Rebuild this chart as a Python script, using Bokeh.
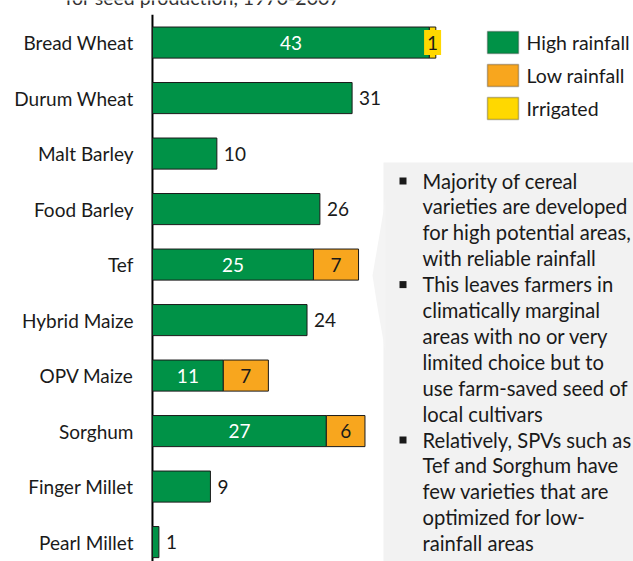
from bokeh.plotting import figure
from bokeh.models import (Range1d, ColumnDataSource, Label,
                          BoxAnnotation, PolyAnnotation)
from bokeh.core.properties import value
from bokeh.embed import file_html
from bokeh.resources import INLINE

# ---------------- data ----------------
categories = ["Bread Wheat", "Durum Wheat", "Malt Barley", "Food Barley", "Tef",
              "Hybrid Maize", "OPV Maize", "Sorghum", "Finger Millet", "Pearl Millet"]
high_rainfall = [43, 31, 10, 26, 25, 24, 11, 27, 9, 1]
low_rainfall = [0, 0, 0, 0, 7, 0, 7, 6, 0, 0]
irrigated = [1, 0, 0, 0, 0, 0, 0, 0, 0, 0]
series_names = ["High rainfall", "Low rainfall", "Irrigated"]
title_text = "for seed production, 1970-2007"
note_paragraphs = [
    ["Majority of cereal", "varieties are developed", "for high potential areas,",
     "with reliable rainfall"],
    ["This leaves farmers in", "climatically marginal", "areas with no or very",
     "limited choice but to", "use farm-saved seed of", "local cultivars"],
    ["Relatively, SPVs such as", "Tef and Sorghum have", "few varieties that are",
     "optimized for low-", "rainfall areas"],
]

# ---------------- styles ----------------
GREEN = "#009247"
ORANGE = "#F8A61E"
YELLOW = "#FFD800"
DARK = "#1a1a1a"
FONT = "Lato"
FS = "19px"
FS_LEG = "19.5px"
FS_NOTE = "20.2px"

idx = list(range(len(categories)))

# the plotting frame covers the whole canvas; value 0 sits 152 px from the left
p = figure(width=633, height=561,
           x_range=Range1d(-23.6, 74.7), y_range=Range1d(9.35, -0.758),
           x_axis_location=None, y_axis_location=None,
           output_backend="svg", toolbar_location=None,
           min_border_left=0, min_border_right=0, min_border_top=0,
           min_border_bottom=0)
p.styles = {"position": "absolute", "left": "0px", "top": "0px", "margin": "0px"}
p.grid.visible = False
p.outline_line_color = None
p.background_fill_color = "white"
p.border_fill_color = "white"

# callout box
p.add_layout(BoxAnnotation(left=383, right=633, top=162, bottom=561,
                           left_units="canvas", right_units="canvas",
                           top_units="canvas", bottom_units="canvas",
                           fill_color="#F2F2F2", fill_alpha=1, line_color=None,
                           level="underlay"))
p.add_layout(PolyAnnotation(xs=[385, 378, 372, 377, 385], ys=[198, 240, 275, 307, 352],
                            xs_units="canvas", ys_units="canvas",
                            fill_color="#F4F4F4", fill_alpha=1, line_color=None,
                            level="underlay"))

# category axis: line from the top slot edge downward + category labels
p.segment(x0=[0], y0=[idx[0] - 0.5], x1=[0], y1=[idx[-1] + 0.5],
          line_color="black", line_width=2)
p.text(x=[0] * len(idx), y=idx, text=categories, x_offset=-19,
       text_align="right", text_baseline="middle",
       text_font=value(FONT), text_font_size=value(FS), text_color=DARK)

# stacked bars
h_left = [0] * len(idx)
h_right = high_rainfall
l_left = high_rainfall
l_right = [h + l for h, l in zip(high_rainfall, low_rainfall)]
i_left = l_right
i_right = [a + b for a, b in zip(l_right, irrigated)]

def sub(mask, **cols):
    return ColumnDataSource({k: [v for v, m in zip(vals, mask) if m] for k, vals in cols.items()})

all_mask = [True] * len(idx)
low_mask = [v > 0 for v in low_rainfall]
irr_mask = [v > 0 for v in irrigated]

p.hbar(y="y", left="l", right="r", height=0.56, source=sub(all_mask, y=idx, l=h_left, r=h_right),
       fill_color=GREEN, line_color=DARK, line_width=1)
p.hbar(y="y", left="l", right="r", height=0.56, source=sub(low_mask, y=idx, l=l_left, r=l_right),
       fill_color=ORANGE, line_color=DARK, line_width=1)
p.hbar(y="y", left="l", right="r", height=0.56, source=sub(irr_mask, y=idx, l=i_left, r=i_right),
       fill_color=YELLOW, line_color=DARK, line_width=1)

stacked = [(l + i) > 0 for l, i in zip(low_rainfall, irrigated)]
single = [not s for s in stacked]

# labels: outside for single-series bars
p.text(x="x", y="y", text="t", source=sub(single, x=high_rainfall, y=idx,
                                           t=[str(v) for v in high_rainfall]),
       x_offset=7, text_align="left", text_baseline="middle",
       text_font=value(FONT), text_font_size=value(FS), text_color=DARK)
# inside labels for stacked bars
p.text(x="x", y="y", text="t",
       source=sub(stacked, x=[v / 2 for v in high_rainfall], y=idx,
                  t=[str(v) for v in high_rainfall]),
       text_align="center", text_baseline="middle",
       text_font=value(FONT), text_font_size=value(FS), text_color="white")
p.text(x="x", y="y", text="t",
       source=sub(low_mask, x=[a + b / 2 for a, b in zip(l_left, low_rainfall)], y=idx,
                  t=[str(v) for v in low_rainfall]),
       text_align="center", text_baseline="middle",
       text_font=value(FONT), text_font_size=value(FS), text_color=DARK)
irr_src = sub(irr_mask, x=[a + b / 2 for a, b in zip(i_left, irrigated)], y=idx,
              t=[str(v) for v in irrigated])
p.rect(x="x", y="y", width=17, height=25, width_units="screen", height_units="screen",
       source=irr_src, fill_color=YELLOW, line_color=None)
p.text(x="x", y="y", text="t", source=irr_src,
       text_align="center", text_baseline="middle",
       text_font=value(FONT), text_font_size=value(FS), text_color=DARK)

# legend (manual)
for k, (name, col) in enumerate(zip(series_names, [GREEN, ORANGE, YELLOW])):
    top = 31 + 33 * k
    p.add_layout(BoxAnnotation(left=487, right=518, top=top, bottom=top + 22,
                               left_units="canvas", right_units="canvas",
                               top_units="canvas", bottom_units="canvas",
                               fill_color=col, fill_alpha=1, line_color=DARK, line_width=1.5))
    p.add_layout(Label(x=526, y=top + 11, x_units="canvas", y_units="canvas", text=name,
                       text_align="left", text_baseline="middle",
                       text_font=FONT, text_font_size=FS_LEG, text_color=DARK))

# cut-off title (the reference shows only its lower part)
p.add_layout(Label(x=65, y=-3, x_units="canvas", y_units="canvas", text=title_text,
                   text_align="left", text_baseline="alphabetic",
                   text_font=FONT, text_font_size="19.5px", text_color="#333333"))

# callout text (Label's alphabetic anchor sits ~8px above the drawn baseline)
line_no = 0
for para in note_paragraphs:
    base = 188 + 25.9 * line_no
    p.add_layout(BoxAnnotation(left=399, right=406, top=base - 11, bottom=base - 4,
                               left_units="canvas", right_units="canvas",
                               top_units="canvas", bottom_units="canvas",
                               fill_color=DARK, fill_alpha=1, line_color=None))
    for line in para:
        base = 188 + 25.9 * line_no
        p.add_layout(Label(x=422, y=base - 8, x_units="canvas", y_units="canvas", text=line,
                           text_align="left", text_baseline="alphabetic",
                           text_font=FONT, text_font_size=FS_NOTE, text_color=DARK))
        line_no += 1

open("out.html", "w").write(file_html(p, INLINE))
